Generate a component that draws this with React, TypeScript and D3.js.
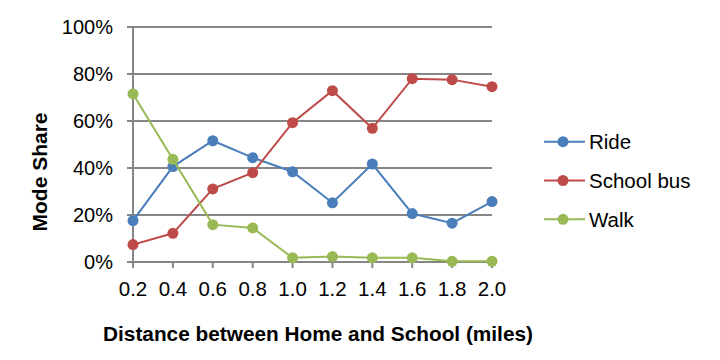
import React from "react";
import * as d3 from "d3";

const distances = ["0.2", "0.4", "0.6", "0.8", "1.0", "1.2", "1.4", "1.6", "1.8", "2.0"];
const ride = [17.6, 40.6, 51.6, 44.4, 38.4, 25.2, 41.7, 20.6, 16.5, 25.7];
const schoolBus = [7.4, 12.2, 31.1, 38.0, 59.3, 72.9, 56.9, 78.0, 77.6, 74.6];
const walk = [71.5, 43.7, 15.9, 14.5, 1.8, 2.3, 1.8, 1.8, 0.3, 0.3];
const yTicks = [0, 20, 40, 60, 80, 100];

const seriesList = [
  { name: "Ride", values: ride, color: "#4A7EBB" },
  { name: "School bus", values: schoolBus, color: "#BE4B48" },
  { name: "Walk", values: walk, color: "#98B954" },
];

const W = 720;
const H = 360;
const plot = { left: 133, right: 492, top: 27, bottom: 262 };
const font = "'Liberation Sans', Arial, sans-serif";
const gridColor = "#868686";

export default function App() {
  const x = d3.scalePoint<string>().domain(distances).range([plot.left, plot.right]);
  const y = d3.scaleLinear().domain([0, 100]).range([plot.bottom, plot.top]);

  const line = d3
    .line<number>()
    .x((_, i) => x(distances[i]) as number)
    .y((d) => y(d));

  return (
    <svg
      width={W}
      height={H}
      style={{ position: "absolute", left: 0, top: 0, background: "#fff" }}
      fontFamily={font}
    >
      {/* gridlines and y ticks */}
      {yTicks.map((t) => (
        <g key={t}>
          <line x1={plot.left - 6} x2={plot.right} y1={y(t)} y2={y(t)} stroke={gridColor} strokeWidth={2} />
          <text x={113} y={y(t)} dy="0.36em" textAnchor="end" fontSize={20} fill="#000">
            {t}%
          </text>
        </g>
      ))}
      {/* y axis */}
      <line x1={plot.left} x2={plot.left} y1={plot.top} y2={plot.bottom} stroke={gridColor} strokeWidth={2} />
      {/* x ticks */}
      {distances.map((d) => (
        <g key={d}>
          <line x1={x(d)} x2={x(d)} y1={plot.bottom} y2={plot.bottom + 6} stroke={gridColor} strokeWidth={2} />
          <text x={x(d)} y={295.5} textAnchor="middle" fontSize={20.5} fill="#000">
            {d}
          </text>
        </g>
      ))}

      {/* series */}
      {seriesList.map((s) => (
        <g key={s.name}>
          <path d={line(s.values) ?? ""} fill="none" stroke={s.color} strokeWidth={2} />
          {s.values.map((v, i) => (
            <circle key={i} cx={x(distances[i])} cy={y(v)} r={5.5} fill={s.color} />
          ))}
        </g>
      ))}

      {/* legend */}
      {seriesList.map((s, i) => {
        const ly = 141.7 + i * 38.8;
        return (
          <g key={s.name}>
            <line x1={544} x2={585} y1={ly} y2={ly} stroke={s.color} strokeWidth={2} />
            <circle cx={563} cy={ly} r={5.5} fill={s.color} />
            <text x={589} y={ly} dy="0.36em" fontSize={20.5} fill="#000">
              {s.name}
            </text>
          </g>
        );
      })}

      {/* axis titles */}
      <text x={318} y={341} textAnchor="middle" fontSize={20.8} fontWeight="bold" fill="#000">
        Distance between Home and School (miles)
      </text>
      <text
        transform="translate(47,172) rotate(-90)"
        textAnchor="middle"
        fontSize={21}
        fontWeight="bold"
        fill="#000"
      >
        Mode Share
      </text>
    </svg>
  );
}
